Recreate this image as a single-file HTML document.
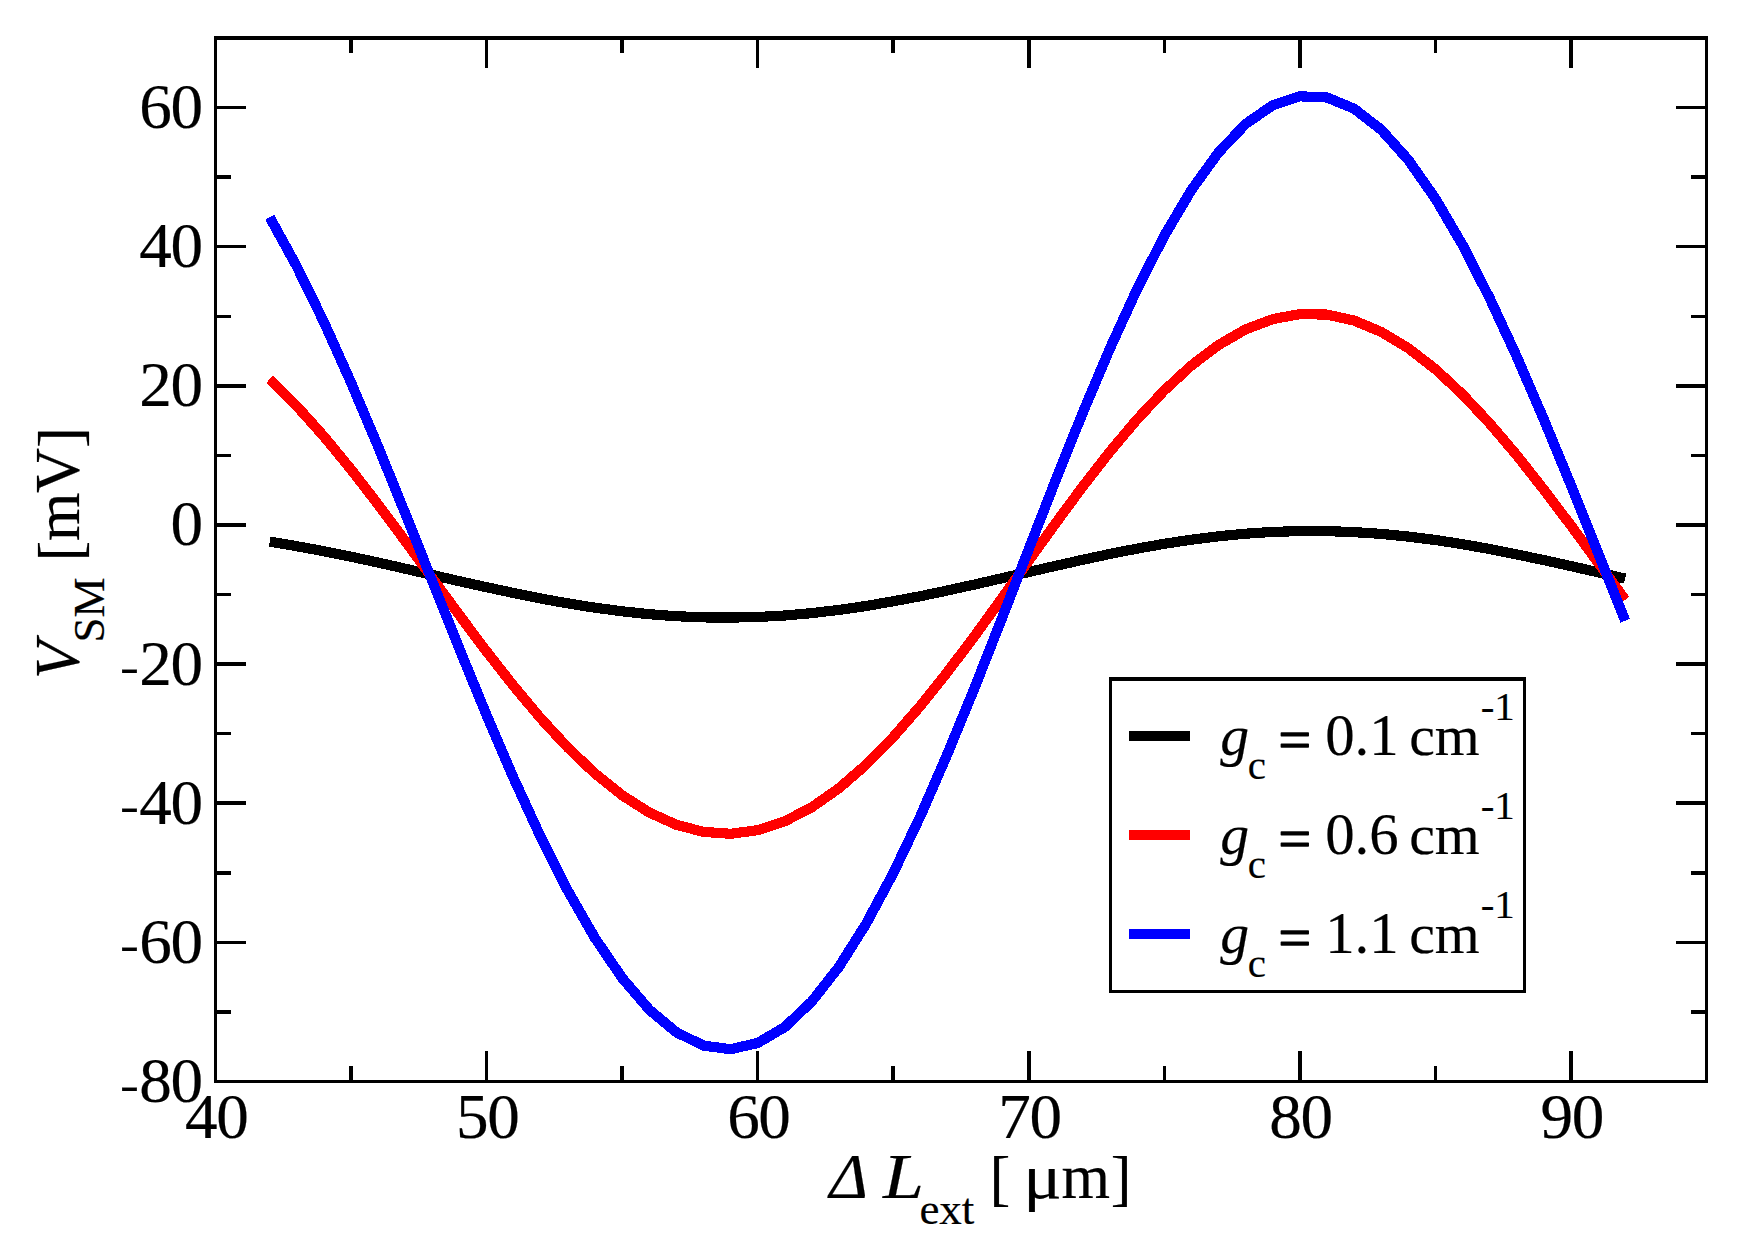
<!DOCTYPE html>
<html lang="en"><head><meta charset="utf-8"><title>V_SM vs external cavity length</title>
<style>html,body{margin:0;padding:0;background:#fff;}body{width:1741px;height:1253px;overflow:hidden;}svg{display:block;}text{font-family:"Liberation Serif","Times New Roman",Times,serif;fill:#000;stroke:#000;stroke-width:0.2;stroke-linejoin:round;}.i{font-style:italic;}</style></head><body>
<svg width="1741" height="1253" viewBox="0 0 1741 1253">
<rect x="0" y="0" width="1741" height="1253" fill="#fff"/>
<polyline fill="none" stroke="#000" stroke-width="10.2" stroke-linejoin="round" stroke-linecap="butt" shape-rendering="crispEdges" points="269.7,541.7 296.8,546.2 323.9,551.2 351.0,556.7 378.2,562.6 405.3,568.7 432.4,575.0 459.5,581.2 486.6,587.2 513.7,593.0 540.8,598.5 567.9,603.4 595.0,607.7 622.1,611.3 649.2,614.2 676.4,616.2 703.5,617.4 730.6,617.6 757.7,617.0 784.8,615.5 811.9,613.1 839.0,609.9 866.1,606.0 893.2,601.3 920.3,596.2 947.4,590.5 974.6,584.5 1001.7,578.3 1028.8,572.0 1055.9,565.8 1083.0,559.7 1110.1,553.9 1137.2,548.6 1164.3,543.8 1191.4,539.7 1218.5,536.3 1245.6,533.7 1272.8,531.9 1299.9,531.1 1327.0,531.1 1354.1,532.1 1381.2,533.9 1408.3,536.6 1435.4,540.0 1462.5,544.2 1489.6,549.0 1516.7,554.4 1543.8,560.1 1571.0,566.1 1598.1,572.3 1625.2,578.6"/>
<polyline fill="none" stroke="#f00" stroke-width="10.2" stroke-linejoin="round" stroke-linecap="butt" shape-rendering="crispEdges" points="269.7,379.3 296.8,406.1 323.9,436.4 351.0,469.4 378.2,504.6 405.3,541.1 432.4,578.3 459.5,615.3 486.6,651.5 513.7,686.1 540.8,718.4 567.9,747.7 595.0,773.5 622.1,795.2 649.2,812.5 676.4,824.8 703.5,831.9 730.6,833.8 757.7,830.2 784.8,821.3 811.9,807.2 839.0,788.2 866.1,764.7 893.2,737.1 920.3,706.0 947.4,672.1 974.6,636.0 1001.7,598.6 1028.8,560.6 1055.9,522.9 1083.0,486.2 1110.1,451.4 1137.2,419.3 1164.3,390.4 1191.4,365.5 1218.5,345.0 1245.6,329.4 1272.8,319.1 1299.9,314.1 1327.0,314.6 1354.1,320.6 1381.2,331.9 1408.3,348.2 1435.4,369.2 1462.5,394.4 1489.6,423.3 1516.7,455.2 1543.8,489.6 1571.0,525.6 1598.1,562.6 1625.2,599.8"/>
<polyline fill="none" stroke="#00f" stroke-width="10.2" stroke-linejoin="round" stroke-linecap="butt" shape-rendering="crispEdges" points="269.7,217.2 296.8,266.5 323.9,322.0 351.0,382.5 378.2,446.8 405.3,513.6 432.4,581.5 459.5,649.1 486.6,715.2 513.7,778.3 540.8,837.3 567.9,890.9 595.0,938.1 622.1,977.9 649.2,1009.6 676.4,1032.3 703.5,1045.6 730.6,1049.2 757.7,1043.0 784.8,1027.0 811.9,1001.4 839.0,966.8 866.1,923.8 893.2,873.3 920.3,816.3 947.4,754.0 974.6,687.8 1001.7,618.9 1028.8,549.0 1055.9,479.6 1083.0,412.1 1110.1,348.1 1137.2,288.9 1164.3,235.8 1191.4,190.0 1218.5,152.5 1245.6,124.0 1272.8,105.2 1299.9,96.3 1327.0,97.5 1354.1,108.7 1381.2,129.7 1408.3,159.9 1435.4,198.6 1462.5,244.9 1489.6,298.0 1516.7,356.5 1543.8,419.4 1571.0,485.3 1598.1,552.9 1625.2,620.8"/>
<g fill="#000" shape-rendering="crispEdges">
<rect x="349" y="1066" width="4" height="16"/><rect x="349" y="38" width="4" height="15"/>
<rect x="485" y="1051" width="3" height="31"/><rect x="485" y="38" width="3" height="30"/>
<rect x="620" y="1066" width="4" height="16"/><rect x="620" y="38" width="4" height="15"/>
<rect x="756" y="1051" width="3" height="31"/><rect x="756" y="38" width="3" height="30"/>
<rect x="891" y="1066" width="4" height="16"/><rect x="891" y="38" width="4" height="15"/>
<rect x="1027" y="1051" width="4" height="31"/><rect x="1027" y="38" width="4" height="30"/>
<rect x="1163" y="1066" width="3" height="16"/><rect x="1163" y="38" width="3" height="15"/>
<rect x="1298" y="1051" width="4" height="31"/><rect x="1298" y="38" width="4" height="30"/>
<rect x="1434" y="1066" width="3" height="16"/><rect x="1434" y="38" width="3" height="15"/>
<rect x="1569" y="1051" width="4" height="31"/><rect x="1569" y="38" width="4" height="30"/>
<rect x="215" y="1010" width="16" height="4"/><rect x="1691" y="1010" width="16" height="4"/>
<rect x="215" y="941" width="31" height="3"/><rect x="1676" y="941" width="31" height="3"/>
<rect x="215" y="871" width="16" height="4"/><rect x="1691" y="871" width="16" height="4"/>
<rect x="215" y="801" width="31" height="4"/><rect x="1676" y="801" width="31" height="4"/>
<rect x="215" y="732" width="16" height="3"/><rect x="1691" y="732" width="16" height="3"/>
<rect x="215" y="662" width="31" height="4"/><rect x="1676" y="662" width="31" height="4"/>
<rect x="215" y="593" width="16" height="3"/><rect x="1691" y="593" width="16" height="3"/>
<rect x="215" y="523" width="31" height="4"/><rect x="1676" y="523" width="31" height="4"/>
<rect x="215" y="454" width="16" height="3"/><rect x="1691" y="454" width="16" height="3"/>
<rect x="215" y="384" width="31" height="4"/><rect x="1676" y="384" width="31" height="4"/>
<rect x="215" y="315" width="16" height="3"/><rect x="1691" y="315" width="16" height="3"/>
<rect x="215" y="245" width="31" height="3"/><rect x="1676" y="245" width="31" height="3"/>
<rect x="215" y="175" width="16" height="4"/><rect x="1691" y="175" width="16" height="4"/>
<rect x="215" y="106" width="31" height="3"/><rect x="1676" y="106" width="31" height="3"/>
<rect x="214" y="36" width="1494" height="4"/><rect x="214" y="1080" width="1494" height="3"/><rect x="214" y="36" width="3" height="1047"/><rect x="1705" y="36" width="3" height="1047"/>
</g>
<g font-size="62.4">
<text transform="translate(185.70 1138.00) scale(1.045 1.02)" x="-0.67 29.18" y="0">40</text>
<text transform="translate(456.79 1138.00) scale(1.045 1.02)" x="-0.67 29.18" y="0">50</text>
<text transform="translate(727.88 1138.00) scale(1.045 1.02)" x="-0.67 29.18" y="0">60</text>
<text transform="translate(998.97 1138.00) scale(1.045 1.02)" x="-0.67 29.18" y="0">70</text>
<text transform="translate(1270.06 1138.00) scale(1.045 1.02)" x="-0.67 29.18" y="0">80</text>
<text transform="translate(1541.15 1138.00) scale(1.045 1.02)" x="-0.67 29.18" y="0">90</text>
<text transform="translate(119.92 1099.60) scale(0.91 0.75)">-</text><text transform="translate(119.27 1101.90) scale(1.045 1.02)" x="19.21 49.07" y="0">80</text>
<text transform="translate(119.92 960.47) scale(0.91 0.75)">-</text><text transform="translate(119.27 962.77) scale(1.045 1.02)" x="19.21 49.07" y="0">60</text>
<text transform="translate(119.92 821.33) scale(0.91 0.75)">-</text><text transform="translate(119.27 823.63) scale(1.045 1.02)" x="19.21 49.07" y="0">40</text>
<text transform="translate(119.92 682.20) scale(0.91 0.75)">-</text><text transform="translate(119.27 684.50) scale(1.045 1.02)" x="19.21 49.07" y="0">20</text>
<text transform="translate(171.25 545.37) scale(1.045 1.02)" x="-0.67" y="0">0</text>
<text transform="translate(140.05 406.23) scale(1.045 1.02)" x="-0.67 29.18" y="0">20</text>
<text transform="translate(140.05 267.10) scale(1.045 1.02)" x="-0.67 29.18" y="0">40</text>
<text transform="translate(140.05 127.97) scale(1.045 1.02)" x="-0.67 29.18" y="0">60</text>
</g>
<g font-size="62.4">
<text class="i" transform="translate(829.4 1197.7) scale(1.05 1)">Δ </text><text class="i" transform="translate(883 1197.7) scale(1.18 1)">L</text><text font-size="45" x="919.4" y="1223.5">ext </text><text transform="translate(989.5 1199.35) scale(1 0.9785)">[ </text><text transform="translate(1023.2 1197.7) scale(1.15 1)">μ</text><text x="1061.4" y="1197.7">m</text><text transform="translate(1110.8 1199.35) scale(1 0.9785)">]</text>
</g>
<g font-size="62.4" transform="translate(78.9 678.9) rotate(-90)">
<text class="i" x="0" y="0">V</text><text font-size="45" x="36.35" y="24.8">SM </text><text transform="translate(117.3 1.65) scale(1 0.9785)">[</text><text x="137.8 185.9" y="0">mV</text><text transform="translate(230.8 1.65) scale(1 0.9785)">]</text>
</g>
<rect x="1110.5" y="679" width="414" height="312.5" fill="#fff" stroke="none"/>
<g fill="#000" shape-rendering="crispEdges"><rect x="1109" y="677" width="417" height="4"/><rect x="1109" y="990" width="417" height="3"/><rect x="1109" y="677" width="3" height="316"/><rect x="1523" y="677" width="3" height="316"/></g>
<rect x="1129" y="731" width="61" height="10" fill="#000" shape-rendering="crispEdges"/>
<text font-size="57.7" y="755.1"><tspan class="i" x="1220.3">g</tspan><tspan font-size="41" x="1247.8" dy="24">c</tspan><tspan x="1264.08" dy="-19.7" stroke-width="1.5"> = </tspan><tspan x="1325.2" dy="-4.3" font-size="58.8">0.1</tspan><tspan x="1394.78"> cm</tspan><tspan font-size="41" x="1480.7" dy="-34.8">-1</tspan></text>
<rect x="1129" y="830" width="61" height="10" fill="#f00" shape-rendering="crispEdges"/>
<text font-size="57.7" y="854.1"><tspan class="i" x="1220.3">g</tspan><tspan font-size="41" x="1247.8" dy="24">c</tspan><tspan x="1264.08" dy="-19.7" stroke-width="1.5"> = </tspan><tspan x="1325.2" dy="-4.3" font-size="58.8">0.6</tspan><tspan x="1394.78"> cm</tspan><tspan font-size="41" x="1480.7" dy="-34.8">-1</tspan></text>
<rect x="1129" y="929" width="61" height="10" fill="#00f" shape-rendering="crispEdges"/>
<text font-size="57.7" y="953.1"><tspan class="i" x="1220.3">g</tspan><tspan font-size="41" x="1247.8" dy="24">c</tspan><tspan x="1264.08" dy="-19.7" stroke-width="1.5"> = </tspan><tspan x="1325.2" dy="-4.3" font-size="58.8">1.1</tspan><tspan x="1394.78"> cm</tspan><tspan font-size="41" x="1480.7" dy="-34.8">-1</tspan></text>
</svg></body></html>
